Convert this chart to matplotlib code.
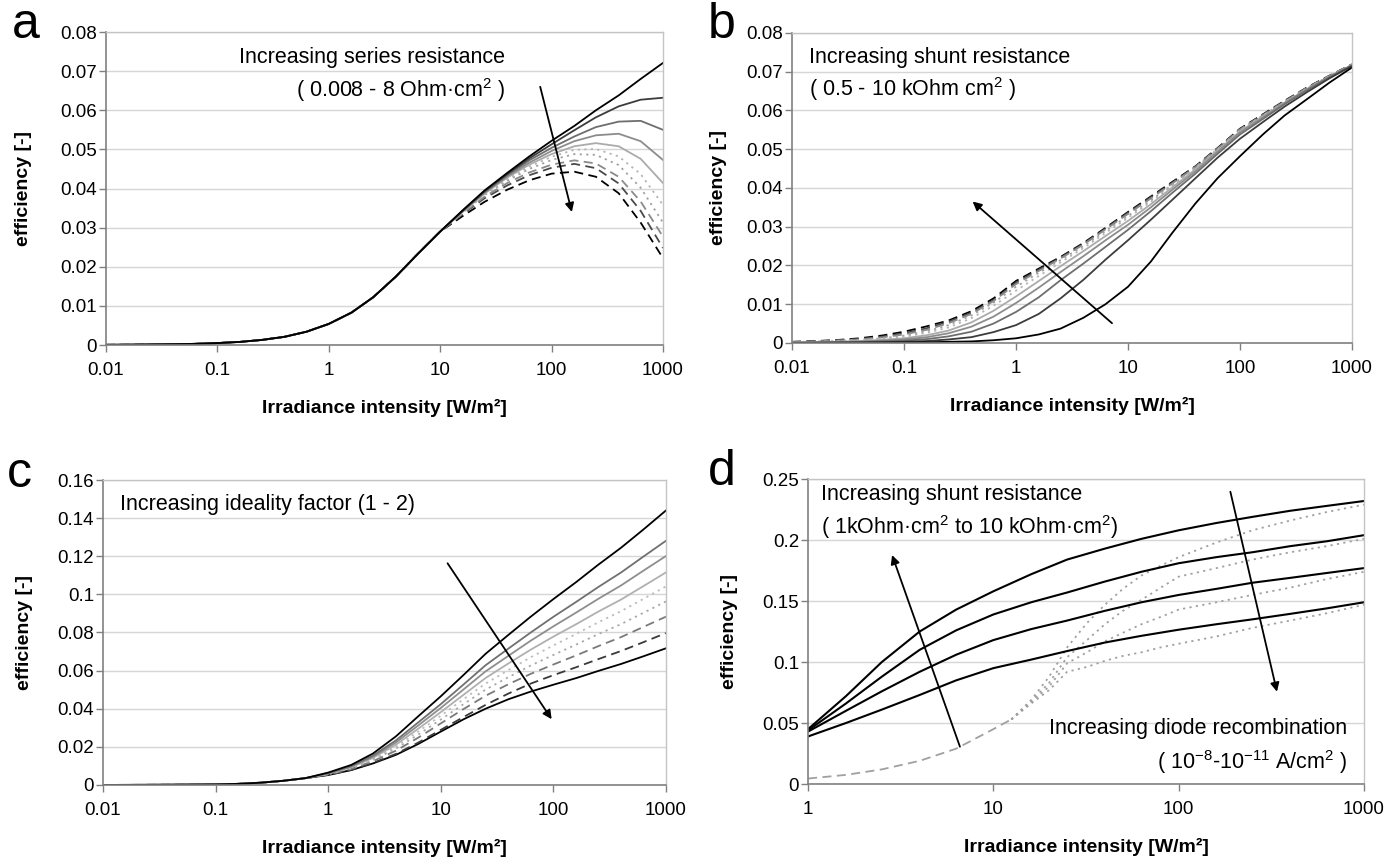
import matplotlib
matplotlib.use("Agg")
import matplotlib.pyplot as plt
from matplotlib.ticker import FixedLocator, FixedFormatter, NullLocator

plt.rcParams['font.family'] = ['Liberation Sans', 'DejaVu Sans']
plt.rcParams['mathtext.fontset'] = 'custom'
plt.rcParams['mathtext.rm'] = 'Liberation Sans'
plt.rcParams['mathtext.it'] = 'Liberation Sans:italic'
plt.rcParams['mathtext.bf'] = 'Liberation Sans:bold'

# ---------------- data ----------------
irr = [0.01, 0.016, 0.025, 0.04, 0.063, 0.1, 0.16, 0.25, 0.4, 0.63,
       1, 1.6, 2.5, 4, 6.3, 10, 16, 25, 40, 63, 100, 160, 250, 400, 630, 1000]

# (a) series resistance: common part up to 10 W/m2, then one tail per curve (16..1000)
base_a = [0.00005, 0.00008, 0.00013, 0.0002, 0.0003, 0.0005, 0.0008, 0.0013,
          0.0021, 0.0034, 0.0054, 0.0083, 0.0122, 0.0175, 0.0233, 0.0290]
tails_a = [
    [0.0345, 0.0395, 0.0440, 0.0482, 0.0522, 0.0560, 0.0600, 0.0638, 0.0680, 0.0721],
    [0.0344, 0.0393, 0.0437, 0.0477, 0.0513, 0.0549, 0.0582, 0.0610, 0.0627, 0.0632],
    [0.0343, 0.0391, 0.0434, 0.0472, 0.0504, 0.0533, 0.0557, 0.0571, 0.0573, 0.0550],
    [0.0342, 0.0389, 0.0431, 0.0466, 0.0496, 0.0521, 0.0536, 0.0540, 0.0521, 0.0473],
    [0.0341, 0.0387, 0.0428, 0.0461, 0.0488, 0.0508, 0.0516, 0.0508, 0.0476, 0.0414],
    [0.0340, 0.0385, 0.0424, 0.0456, 0.0481, 0.0499, 0.0501, 0.0482, 0.0437, 0.0358],
    [0.0339, 0.0383, 0.0420, 0.0450, 0.0473, 0.0488, 0.0486, 0.0460, 0.0402, 0.0313],
    [0.0337, 0.0379, 0.0414, 0.0441, 0.0461, 0.0472, 0.0464, 0.0430, 0.0367, 0.0277],
    [0.0335, 0.0375, 0.0408, 0.0434, 0.0453, 0.0463, 0.0452, 0.0413, 0.0343, 0.0248],
    [0.0330, 0.0366, 0.0397, 0.0421, 0.0438, 0.0443, 0.0430, 0.0388, 0.0313, 0.0222],
]

# (b) shunt resistance 0.5 .. 10 kOhm cm2 (lowest first)
curves_b = [
    [0.00001, 0.00002, 0.00003, 0.00005, 0.00008, 0.0001, 0.00017, 0.0003, 0.0004, 0.0007,
     0.0012, 0.0022, 0.0037, 0.0065, 0.0100, 0.0145, 0.0210, 0.0285, 0.0360, 0.0425,
     0.0482, 0.0538, 0.0587, 0.0630, 0.0672, 0.0711],
    [0.00003, 0.00005, 0.00008, 0.00012, 0.0002, 0.0003, 0.0005, 0.0009, 0.0015, 0.0028,
     0.0046, 0.0075, 0.0115, 0.0163, 0.0215, 0.0265, 0.0318, 0.0370, 0.0425, 0.0478,
     0.0527, 0.0570, 0.0610, 0.0648, 0.0683, 0.0715],
    [0.00006, 0.0001, 0.00015, 0.00024, 0.0004, 0.0006, 0.0010, 0.0017, 0.0029, 0.0050,
     0.0080, 0.0118, 0.0162, 0.0205, 0.0248, 0.0292, 0.0340, 0.0388, 0.0437, 0.0488,
     0.0538, 0.0578, 0.0616, 0.0653, 0.0686, 0.0716],
    [0.0001, 0.00015, 0.00023, 0.00037, 0.0006, 0.0009, 0.0015, 0.0025, 0.0042, 0.0068,
     0.0103, 0.0143, 0.0183, 0.0224, 0.0265, 0.0305, 0.0350, 0.0396, 0.0443, 0.0493,
     0.0543, 0.0582, 0.0619, 0.0655, 0.0687, 0.0717],
    [0.00013, 0.0002, 0.0003, 0.0005, 0.0008, 0.0012, 0.0020, 0.0032, 0.0053, 0.0083,
     0.0120, 0.0160, 0.0198, 0.0237, 0.0276, 0.0315, 0.0358, 0.0402, 0.0448, 0.0496,
     0.0546, 0.0584, 0.0620, 0.0656, 0.0688, 0.0717],
    [0.00017, 0.00027, 0.0004, 0.00065, 0.0010, 0.0016, 0.0026, 0.0040, 0.0064, 0.0096,
     0.0135, 0.0173, 0.0208, 0.0245, 0.0284, 0.0323, 0.0364, 0.0406, 0.0451, 0.0498,
     0.0548, 0.0586, 0.0621, 0.0657, 0.0688, 0.0718],
    [0.0002, 0.00032, 0.0005, 0.0008, 0.0012, 0.0019, 0.0030, 0.0046, 0.0071, 0.0104,
     0.0145, 0.0181, 0.0214, 0.0250, 0.0289, 0.0328, 0.0368, 0.0409, 0.0453, 0.0500,
     0.0550, 0.0587, 0.0622, 0.0658, 0.0689, 0.0718],
    [0.00023, 0.00037, 0.0006, 0.0009, 0.0014, 0.0022, 0.0034, 0.0051, 0.0075, 0.0108,
     0.0152, 0.0186, 0.0218, 0.0254, 0.0293, 0.0333, 0.0373, 0.0412, 0.0454, 0.0501,
     0.0551, 0.0588, 0.0623, 0.0659, 0.0689, 0.0718],
    [0.00027, 0.00043, 0.00068, 0.0010, 0.0016, 0.0025, 0.0038, 0.0055, 0.0078, 0.0110,
     0.0156, 0.0189, 0.0220, 0.0256, 0.0295, 0.0336, 0.0376, 0.0414, 0.0455, 0.0502,
     0.0552, 0.0589, 0.0624, 0.0659, 0.0689, 0.0719],
    [0.0003, 0.00048, 0.00075, 0.0012, 0.0019, 0.0029, 0.0043, 0.0058, 0.0082, 0.0115,
     0.0160, 0.0192, 0.0222, 0.0258, 0.0297, 0.0338, 0.0378, 0.0416, 0.0456, 0.0503,
     0.0553, 0.0590, 0.0625, 0.0660, 0.0690, 0.0719],
]

# (c) ideality factor 1 .. 2: common part below 1 W/m2, tails from 1 to 1000
base_c = [0.00003, 0.00005, 0.00008, 0.00013, 0.0002, 0.0003, 0.0006, 0.0012, 0.0022, 0.0036]
tails_c = [
    [0.0065, 0.0105, 0.0165, 0.0255, 0.0360, 0.0465, 0.0578, 0.0688, 0.0788, 0.0883,
     0.0975, 0.1065, 0.1155, 0.1245, 0.1340, 0.1440],
    [0.0062, 0.0099, 0.0154, 0.0234, 0.0328, 0.0424, 0.0528, 0.0628, 0.0716, 0.0800,
     0.0882, 0.0961, 0.1038, 0.1115, 0.1198, 0.1281],
    [0.0061, 0.0096, 0.0148, 0.0223, 0.0312, 0.0404, 0.0502, 0.0596, 0.0678, 0.0757,
     0.0832, 0.0905, 0.0976, 0.1047, 0.1124, 0.1201],
    [0.0059, 0.0093, 0.0142, 0.0211, 0.0295, 0.0382, 0.0474, 0.0561, 0.0638, 0.0710,
     0.0778, 0.0844, 0.0909, 0.0973, 0.1043, 0.1115],
    [0.0058, 0.0090, 0.0136, 0.0202, 0.0280, 0.0363, 0.0451, 0.0532, 0.0603, 0.0670,
     0.0732, 0.0793, 0.0853, 0.0912, 0.0976, 0.1042],
    [0.0056, 0.0087, 0.0131, 0.0191, 0.0264, 0.0343, 0.0425, 0.0500, 0.0566, 0.0627,
     0.0682, 0.0737, 0.0791, 0.0844, 0.0903, 0.0963],
    [0.0055, 0.0084, 0.0125, 0.0180, 0.0248, 0.0323, 0.0399, 0.0468, 0.0529, 0.0583,
     0.0632, 0.0680, 0.0728, 0.0776, 0.0829, 0.0883],
    [0.0053, 0.0079, 0.0116, 0.0163, 0.0222, 0.0289, 0.0357, 0.0420, 0.0480, 0.0532,
     0.0576, 0.0618, 0.0660, 0.0703, 0.0749, 0.0797],
    [0.0052, 0.0078, 0.0113, 0.0158, 0.0215, 0.0280, 0.0345, 0.0400, 0.0450, 0.0490,
     0.0526, 0.0561, 0.0598, 0.0635, 0.0675, 0.0717],
]

# (d) shunt resistance (solid) and diode recombination (dotted)
irr_d = [1, 1.6, 2.5, 4, 6.3, 10, 16, 25, 40, 63, 100, 160, 250, 400, 630, 1000]
shunt_d = [
    [0.039, 0.050, 0.061, 0.073, 0.085, 0.095, 0.102, 0.109, 0.116, 0.1215,
     0.1265, 0.131, 0.135, 0.1395, 0.144, 0.149],
    [0.043, 0.060, 0.076, 0.092, 0.106, 0.118, 0.127, 0.134, 0.142, 0.149,
     0.155, 0.160, 0.165, 0.169, 0.173, 0.177],
    [0.044, 0.066, 0.088, 0.110, 0.126, 0.139, 0.149, 0.157, 0.166, 0.174,
     0.181, 0.186, 0.190, 0.195, 0.199, 0.204],
    [0.045, 0.072, 0.100, 0.125, 0.143, 0.158, 0.172, 0.184, 0.193, 0.201,
     0.208, 0.214, 0.219, 0.224, 0.228, 0.232],
]
irr_diode_low = [1, 1.6, 2.5, 4, 6.3, 10, 12.5]
diode_low = [0.0045, 0.0075, 0.012, 0.019, 0.029, 0.045, 0.053]
irr_diode_high = [12.5, 16, 20, 25, 32, 40, 50, 63, 80, 100, 160, 250, 400, 630, 1000]
diode_high = [
    [0.053, 0.069, 0.088, 0.112, 0.132, 0.147, 0.160, 0.171, 0.179, 0.186, 0.198, 0.208, 0.216, 0.223, 0.229],
    [0.053, 0.068, 0.083, 0.104, 0.118, 0.131, 0.142, 0.151, 0.161, 0.170, 0.177, 0.184, 0.190, 0.195, 0.201],
    [0.053, 0.067, 0.080, 0.099, 0.108, 0.117, 0.124, 0.131, 0.137, 0.143, 0.149, 0.155, 0.161, 0.168, 0.174],
    [0.053, 0.066, 0.077, 0.092, 0.096, 0.101, 0.105, 0.108, 0.112, 0.115, 0.121, 0.128, 0.134, 0.140, 0.147],
]

dec_ticks = [0.01, 0.1, 1, 10, 100, 1000]
dec_labels = ['0.01', '0.1', '1', '10', '100', '1000']

# ---------------- styles ----------------
DASH = (0, (5, 3))
DOT = (0, (1.2, 2.4))
style_a = [('#000000', '-'), ('#3c3c3c', '-'), ('#6e6e6e', '-'), ('#8c8c8c', '-'),
           ('#ababab', '-'), ('#b4b4b4', DOT), ('#a0a0a0', DOT),
           ('#8a8a8a', DASH), ('#4a4a4a', DASH), ('#000000', DASH)]
style_b = style_a  # lowest shunt drawn as black solid, highest as black dashed
style_c = [('#000000', '-'), ('#707070', '-'), ('#8e8e8e', '-'), ('#b0b0b0', '-'),
           ('#bcbcbc', DOT), ('#a8a8a8', DOT), ('#7a7a7a', DASH), ('#3a3a3a', DASH),
           ('#000000', '-')]
LW = 1.3
NOTE = 15.5


def style_axes(ax, xticks, xlabels, yticks, ylab_x, xlab_y):
    ax.set_xscale('log')
    ax.set_xlim(xticks[0], xticks[-1])
    ax.set_ylim(yticks[0], yticks[-1])
    ax.xaxis.set_major_locator(FixedLocator(xticks))
    ax.xaxis.set_major_formatter(FixedFormatter(xlabels))
    ax.xaxis.set_minor_locator(NullLocator())
    ax.set_yticks(yticks)
    ax.set_yticklabels(['%g' % v for v in yticks])
    ax.grid(axis='y', color='#d6d6d6', lw=1.0)
    ax.set_axisbelow(True)
    for s in ('left', 'bottom'):
        ax.spines[s].set_color('#808080')
        ax.spines[s].set_linewidth(1.2)
    for s in ('top', 'right'):
        ax.spines[s].set_color('#c4c4c4')
        ax.spines[s].set_linewidth(1.0)
    ax.tick_params(axis='both', direction='out', length=5, width=1.0,
                   color='#808080', labelsize=13.5, labelcolor='black')
    ax.tick_params(axis='y', pad=1.5)
    ax.tick_params(axis='x', pad=7)
    ax.set_ylabel('efficiency [-]', fontsize=14, fontweight='bold')
    ax.set_xlabel('Irradiance intensity [W/m²]', fontsize=14, fontweight='bold')
    ax.yaxis.set_label_coords(ylab_x, 0.5)
    ax.xaxis.set_label_coords(0.5, xlab_y)


def arrow(ax, tail, head):
    ax.annotate('', xy=head, xytext=tail,
                arrowprops=dict(arrowstyle='-|>', color='black', lw=1.3,
                                mutation_scale=13, shrinkA=0, shrinkB=0))


fig = plt.figure(figsize=(13.99, 8.63), dpi=100)
ax_a = fig.add_axes([0.0758, 0.6002, 0.3981, 0.3627])
ax_b = fig.add_axes([0.5661, 0.6026, 0.4003, 0.3592])
ax_c = fig.add_axes([0.0736, 0.0904, 0.4024, 0.3534])
ax_d = fig.add_axes([0.5776, 0.0915, 0.3974, 0.3534])

# panel a
for tail, (col, ls) in zip(tails_a[::-1], style_a[::-1]):
    ax_a.plot(irr, base_a + tail, color=col, ls=ls, lw=LW)
style_axes(ax_a, dec_ticks, dec_labels, [0, 0.01, 0.02, 0.03, 0.04, 0.05, 0.06, 0.07, 0.08],
           -0.133, -0.172)
ax_a.text(0.716, 0.92, 'Increasing series resistance', transform=ax_a.transAxes,
          ha='right', va='center', fontsize=NOTE)
ax_a.text(0.716, 0.815, '( 0.008 - 8 Ohm·cm$^{2}$ )', transform=ax_a.transAxes,
          ha='right', va='center', fontsize=NOTE)
arrow(ax_a, (79, 0.066), (152, 0.034))

# panel b
for vals, (col, ls) in zip(curves_b[::-1], style_b[::-1]):
    ax_b.plot(irr, vals, color=col, ls=ls, lw=LW)
style_axes(ax_b, dec_ticks, dec_labels, [0, 0.01, 0.02, 0.03, 0.04, 0.05, 0.06, 0.07, 0.08],
           -0.116, -0.174)
ax_b.text(0.03, 0.92, 'Increasing shunt resistance', transform=ax_b.transAxes,
          ha='left', va='center', fontsize=NOTE)
ax_b.text(0.03, 0.82, '( 0.5 - 10 kOhm cm$^{2}$ )', transform=ax_b.transAxes,
          ha='left', va='center', fontsize=NOTE)
arrow(ax_b, (7.2, 0.0051), (0.41, 0.0365))

# panel c
for tail, (col, ls) in zip(tails_c[::-1], style_c[::-1]):
    ax_c.plot(irr, base_c + tail, color=col, ls=ls, lw=LW)
style_axes(ax_c, dec_ticks, dec_labels, [0, 0.02, 0.04, 0.06, 0.08, 0.1, 0.12, 0.14, 0.16],
           -0.125, -0.177)
ax_c.text(0.031, 0.921, 'Increasing ideality factor (1 - 2)', transform=ax_c.transAxes,
          ha='left', va='center', fontsize=NOTE)
arrow(ax_c, (11.5, 0.1163), (96.6, 0.0345))

# panel d
ax_d.plot(irr_diode_low, diode_low, color='#a0a0a0', ls=DASH, lw=LW)
for vals in diode_high:
    ax_d.plot(irr_diode_high, vals, color='#a0a0a0', ls=DOT, lw=LW)
for vals in shunt_d:
    ax_d.plot(irr_d, vals, color='black', ls='-', lw=1.5)
style_axes(ax_d, [1, 10, 100, 1000], ['1', '10', '100', '1000'],
           [0, 0.05, 0.1, 0.15, 0.2, 0.25], -0.126, -0.177)
ax_d.text(0.024, 0.948, 'Increasing shunt resistance', transform=ax_d.transAxes,
          ha='left', va='center', fontsize=NOTE)
ax_d.text(0.024, 0.842, '( 1kOhm·cm$^{2}$ to 10 kOhm·cm$^{2}$)', transform=ax_d.transAxes,
          ha='left', va='center', fontsize=NOTE)
ax_d.text(0.969, 0.183, 'Increasing diode recombination', transform=ax_d.transAxes,
          ha='right', va='center', fontsize=NOTE)
ax_d.text(0.969, 0.073, '( 10$^{-8}$-10$^{-11}$ A/cm$^{2}$ )', transform=ax_d.transAxes,
          ha='right', va='center', fontsize=NOTE)
arrow(ax_d, (6.6, 0.0306), (2.84, 0.1877))
arrow(ax_d, (190, 0.2396), (339, 0.0757))

# panel letters
for letter, (px, py) in zip('abcd', [(12, 38), (708, 38), (7, 487), (708, 485)]):
    fig.text(px / 1399, 1 - py / 863, letter, fontsize=36, ha='left', va='baseline')

fig.savefig('out.png', dpi=100)
